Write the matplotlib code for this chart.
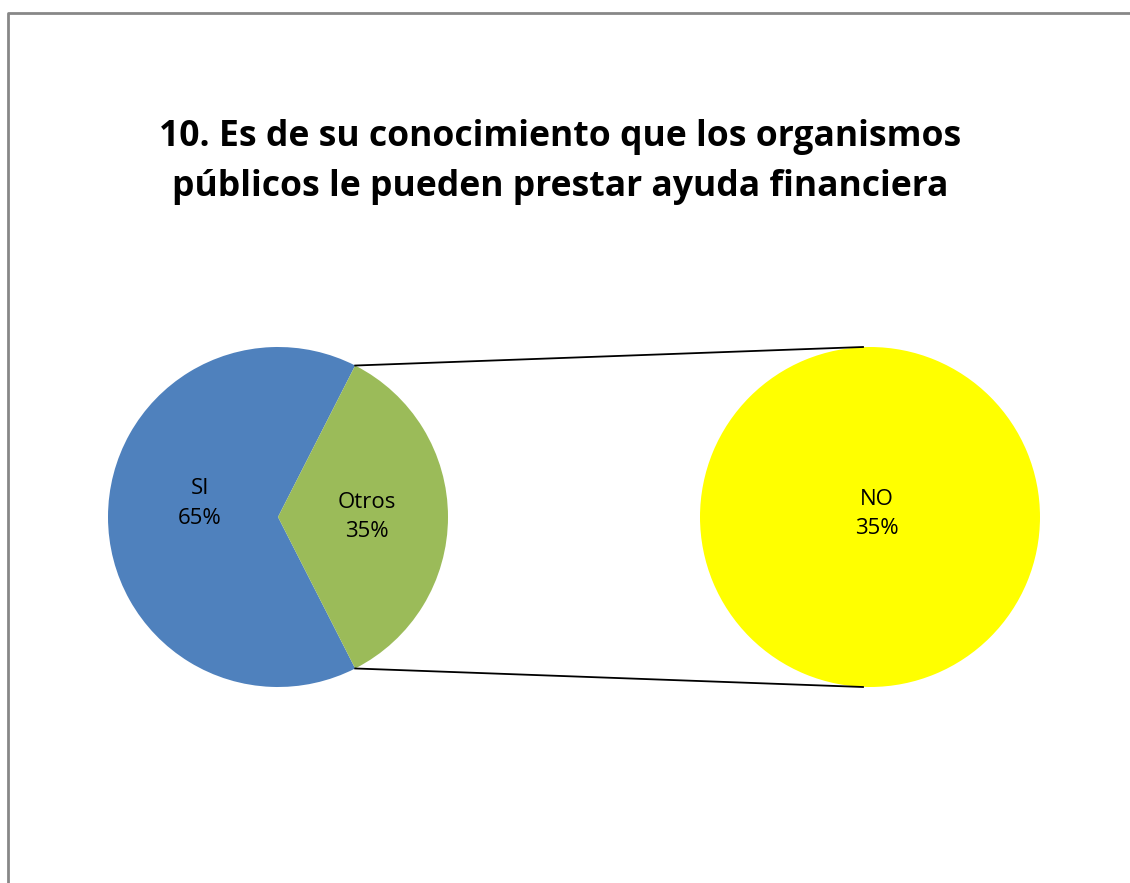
import matplotlib.pyplot as plt
import numpy as np

# Survey answers
categories = ["SI", "Otros"]
values = [65, 35]
detail_categories = ["NO"]
detail_values = [35]
title = "10. Es de su conocimiento que los organismos\npúblicos le pueden prestar ayuda financiera"

BLUE = "#4F81BD"
GREEN = "#9BBB59"
YELLOW = "#FFFF00"


def main() -> None:
    plt.rcParams["font.family"] = ["Open Sans", "DejaVu Sans"]

    fig = plt.figure(figsize=(11.3, 8.83), dpi=100)
    ax = fig.add_axes([0, 0, 1, 1])

    # chart frame (top and left edges visible)
    ax.plot([8, 8, 1135], [890, 13, 13], color="#878787", lw=2,
            solid_capstyle="butt", clip_on=False)

    radius = 170
    main_center = (278, 517)
    detail_center = (870, 517)

    # main pie: "Otros" wedge faces the detail pie
    other_share = values[1] / sum(values) * 360
    start = other_share / 2
    wedges, _ = ax.pie(values, colors=[BLUE, GREEN], startangle=start,
                       counterclock=True, center=main_center, radius=radius,
                       wedgeprops=dict(linewidth=0), frame=True)

    # y axis is inverted so flip the pie by negating angles
    for w in wedges:
        t1, t2 = w.theta1, w.theta2
        w.set_theta1(-t2)
        w.set_theta2(-t1)

    ax.pie(detail_values, colors=[YELLOW], center=detail_center,
           radius=radius, wedgeprops=dict(linewidth=0), frame=True)

    ax.set_xlim(0, 1130)
    ax.set_ylim(883, 0)
    ax.set_aspect("equal")
    ax.axis("off")

    # connector lines from the split wedge to the detail pie
    half = np.deg2rad(other_share / 2)
    for sgn in (-1, 1):
        x0 = main_center[0] + radius * np.cos(half)
        y0 = main_center[1] + sgn * radius * np.sin(half)
        x1 = detail_center[0] - 7
        y1 = detail_center[1] + sgn * radius
        ax.plot([x0, x1], [y0, y1], color="black", lw=1.3)

    total = sum(values)
    label_pos = [(-0.46, -0.08), (0.52, 0.0)]
    for cat, val, (fx, fy) in zip(categories, values, label_pos):
        ax.text(main_center[0] + fx * radius, main_center[1] + fy * radius,
                f"{cat}\n{val / total * 100:.0f}%", ha="center", va="center",
                fontsize=16, linespacing=1.55)
    for cat, val in zip(detail_categories, detail_values):
        ax.text(detail_center[0] + 7, detail_center[1] - 3,
                f"{cat}\n{val:.0f}%", ha="center", va="center",
                fontsize=16, linespacing=1.55)

    ax.text(560, 162, title, ha="center", va="center", fontsize=25.6,
            fontweight="bold", linespacing=1.55)

    fig.savefig("out.png", dpi=100)
    plt.close(fig)


if __name__ == "__main__":
    main()
